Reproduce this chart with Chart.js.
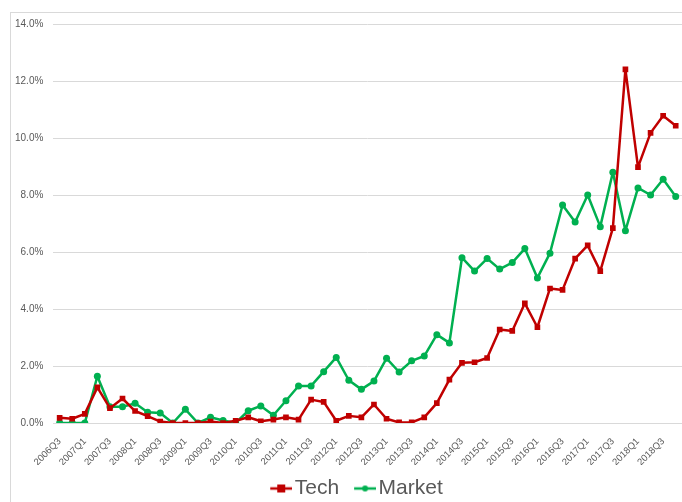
<!DOCTYPE html>
<html>
<head>
<meta charset="utf-8">
<script src="https://cdn.jsdelivr.net/npm/chart.js@4/dist/chart.umd.min.js"></script>
<style>
    html, body { margin: 0; padding: 0; background: #fff; overflow: hidden; }
    #wrap { position: relative; width: 682px; height: 502px; }
    #frame { position: absolute; left: 10px; top: 12px; width: 700px; height: 520px; border: 1px solid #d9d9d9; }
    canvas { position: absolute; left: 0; top: 0; }
</style>
</head>
<body>
<div id="wrap">
    <div id="frame"></div>
    <canvas id="trendChart" width="682" height="502"></canvas>
</div>
<script>
// Quarter labels, 2006Q3 .. 2018Q4
const quarters = [
    '2006Q3', '2006Q4',
    '2007Q1', '2007Q2', '2007Q3', '2007Q4',
    '2008Q1', '2008Q2', '2008Q3', '2008Q4',
    '2009Q1', '2009Q2', '2009Q3', '2009Q4',
    '2010Q1', '2010Q2', '2010Q3', '2010Q4',
    '2011Q1', '2011Q2', '2011Q3', '2011Q4',
    '2012Q1', '2012Q2', '2012Q3', '2012Q4',
    '2013Q1', '2013Q2', '2013Q3', '2013Q4',
    '2014Q1', '2014Q2', '2014Q3', '2014Q4',
    '2015Q1', '2015Q2', '2015Q3', '2015Q4',
    '2016Q1', '2016Q2', '2016Q3', '2016Q4',
    '2017Q1', '2017Q2', '2017Q3', '2017Q4',
    '2018Q1', '2018Q2', '2018Q3', '2018Q4'
];

// values in percent
const techValues = [
    0.18, 0.15, 0.32, 1.25, 0.52, 0.86, 0.42, 0.24, 0.05, 0.00,
    0.00, 0.00, 0.05, 0.00, 0.08, 0.20, 0.06, 0.12, 0.20, 0.12,
    0.82, 0.74, 0.08, 0.25, 0.20, 0.65, 0.15, 0.02, 0.02, 0.20,
    0.70, 1.52, 2.11, 2.13, 2.28, 3.28, 3.23, 4.20, 3.36, 4.72,
    4.67, 5.77, 6.23, 5.33, 6.84, 12.41, 8.98, 10.18, 10.78, 10.43
];

const marketValues = [
    0.00, 0.00, 0.00, 1.64, 0.57, 0.57, 0.69, 0.38, 0.35, 0.00,
    0.48, 0.00, 0.20, 0.09, 0.00, 0.43, 0.60, 0.27, 0.78, 1.30,
    1.30, 1.80, 2.30, 1.50, 1.18, 1.47, 2.27, 1.79, 2.18, 2.35,
    3.10, 2.81, 5.80, 5.33, 5.77, 5.40, 5.63, 6.12, 5.09, 5.96,
    7.65, 7.05, 8.00, 6.89, 8.80, 6.75, 8.25, 8.00, 8.55, 7.95
];

const yTicks = [0, 2, 4, 6, 8, 10, 12, 14];

const TECH_COLOR = '#c00000';
const MARKET_COLOR = '#00b050';

// legend glyph: line with the marker in the middle,
// drawn in the right part of the canvas so it sits close to the text
function legendGlyph(color, shape) {
    const c = document.createElement('canvas');
    c.width = 32;
    c.height = 10;
    const g = c.getContext('2d');
    g.strokeStyle = color;
    g.lineWidth = 2.5;
    g.beginPath();
    g.moveTo(10, 5);
    g.lineTo(32, 5);
    g.stroke();
    g.fillStyle = color;
    if (shape === 'rect') {
        g.fillRect(17, 1, 8, 8);
    } else {
        g.beginPath();
        g.arc(21, 5, 3, 0, Math.PI * 2);
        g.fill();
    }
    return c;
}

const techGlyph = legendGlyph(TECH_COLOR, 'rect');
const marketGlyph = legendGlyph(MARKET_COLOR, 'circle');

// nudge the legend row a little to the right, like the original
const legendShift = {
    id: 'legendShift',
    afterLayout: function(chart) {
        if (chart.legend) {
            chart.legend.left += 24;
        }
    }
};

const ctx = document.getElementById('trendChart').getContext('2d');
const trendChart = new Chart(ctx, {
    type: 'line',
    data: {
        labels: quarters,
        datasets: [
            {
                label: 'Tech',
                data: techValues,
                borderColor: TECH_COLOR,
                backgroundColor: TECH_COLOR,
                borderWidth: 2.5,
                borderJoinStyle: 'round',
                pointStyle: 'rect',
                pointRadius: 4,
                pointBorderWidth: 0,
                tension: 0,
                fill: false
            },
            {
                label: 'Market',
                data: marketValues,
                borderColor: MARKET_COLOR,
                backgroundColor: MARKET_COLOR,
                borderWidth: 2.5,
                borderJoinStyle: 'round',
                pointStyle: 'circle',
                pointRadius: 3.5,
                pointBorderWidth: 0,
                tension: 0,
                fill: false
            }
        ]
    },
    plugins: [legendShift],
    options: {
        responsive: false,
        animation: false,
        layout: {
            autoPadding: false,
            padding: { top: 24, left: 5, right: 0, bottom: -7 }
        },
        plugins: {
            legend: {
                position: 'bottom',
                labels: {
                    usePointStyle: true,
                    pointStyleWidth: 16,
                    boxHeight: 10,
                    padding: 13,
                    color: '#595959',
                    font: { family: 'Liberation Sans', size: 21 },
                    generateLabels: function(chart) {
                        return chart.data.datasets.map(function(ds, i) {
                            return {
                                text: ds.label,
                                pointStyle: i === 0 ? techGlyph : marketGlyph,
                                fillStyle: ds.borderColor,
                                strokeStyle: ds.borderColor,
                                lineWidth: 0,
                                fontColor: '#595959',
                                datasetIndex: i
                            };
                        });
                    }
                }
            },
            tooltip: { enabled: false }
        },
        scales: {
            x: {
                offset: true,
                grid: { display: false },
                border: { display: false },
                // keep the label band the same height as the original
                afterFit: function(scale) {
                    scale.height = 42;
                    scale.paddingRight = 0;
                },
                ticks: {
                    autoSkip: false,
                    maxRotation: 45,
                    minRotation: 45,
                    padding: 5,
                    color: '#595959',
                    font: { family: 'Liberation Sans', size: 9.5 },
                    callback: function(value, index) {
                        return index % 2 === 0 ? quarters[index] : '';
                    }
                }
            },
            y: {
                min: 0,
                max: 14,
                afterBuildTicks: function(axis) {
                    axis.ticks = yTicks.map(v => ({ value: v }));
                },
                grid: { color: '#d9d9d9', lineWidth: 1, drawTicks: false },
                border: { display: false },
                ticks: {
                    padding: 10,
                    color: '#595959',
                    font: { family: 'Liberation Sans', size: 10 },
                    callback: function(value) {
                        return value.toFixed(1) + '%';
                    }
                }
            }
        }
    }
});
</script>
</body>
</html>
